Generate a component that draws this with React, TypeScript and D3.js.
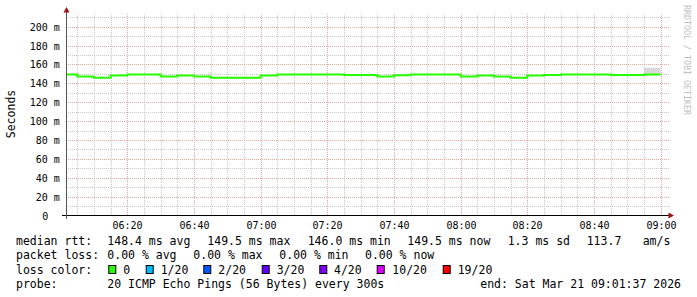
import React from "react";
import * as d3 from "d3";

// ---- data ----
const windowStart = new Date(2026, 2, 21, 6, 1, 37);
const windowEnd = new Date(2026, 2, 21, 9, 1, 37);
const firstBucket = new Date(2026, 2, 21, 6, 0, 0);
const stepMinutes = 5;
// median rtt per 5-minute bucket (ms), 06:00 .. 08:55
const medianRtt = [
  149.5, 147.2, 146.0, 148.4, 149.5, 149.5, 147.2, 148.4, 147.2, 146.0, 146.0, 146.0,
  148.4, 149.5, 149.5, 149.5, 149.5, 148.9, 148.9, 147.2, 148.6, 149.5, 149.5, 149.3,
  147.2, 148.4, 147.2, 146.0, 148.4, 148.9, 149.5, 149.5, 149.5, 148.8, 148.8, 149.5,
];
// visible smoke (ping spread) beyond the median line
const smoke = [{ bucket: 35, lo: 149.5, hi: 156.5 }];
const yTicksMajor = [0, 20, 40, 60, 80, 100, 120, 140, 160, 180, 200];
const xTickLabels = ["06:20", "06:40", "07:00", "07:20", "07:40", "08:00", "08:20", "08:40", "09:00"];
const lossLegend = [
  { label: "0", color: "#26ff00" },
  { label: "1/20", color: "#00b8ff" },
  { label: "2/20", color: "#0059ff" },
  { label: "3/20", color: "#5e00ff" },
  { label: "4/20", color: "#7e00ff" },
  { label: "10/20", color: "#dd00ff" },
  { label: "19/20", color: "#ff0000" },
];
const rttStats = ["148.4 ms avg", "149.5 ms max", "146.0 ms min", "149.5 ms now", "1.3 ms sd", "113.7", "am/s"];
const lossStats = ["0.00 % avg", "0.00 % max", "0.00 % min", "0.00 % now"];
const probeText = "20 ICMP Echo Pings (56 Bytes) every 300s";
const endText = "end: Sat Mar 21 09:01:37 2026";

const W = 697;
const H = 297;
const MONO = "'DejaVu Sans Mono', monospace";

export default function App() {
  const left = 66;
  const right = 666;
  const top = 14;
  const bottom = 215.5;
  const x = d3.scaleTime().domain([windowStart, windowEnd]).range([left, right]);
  const y = d3.scaleLinear().domain([0, 213.5]).range([bottom, top]);

  const bucketTimes = medianRtt.map((_, i) => d3.timeMinute.offset(firstBucket, i * stepMinutes));
  const lastEnd = d3.timeMinute.offset(firstBucket, medianRtt.length * stepMinutes);
  const pts: [Date, number][] = medianRtt.map((v, i) => [bucketTimes[i], v]);
  pts.push([lastEnd, medianRtt[medianRtt.length - 1]]);
  const line = d3
    .line<[Date, number]>()
    .x((d) => x(d[0]))
    .y((d) => y(d[1]))
    .curve(d3.curveStepAfter);

  const minorX = d3.timeMinute.every(5)!.range(windowStart, windowEnd);
  const majorX = d3.timeMinute.every(20)!.range(windowStart, windowEnd);
  const minorY = d3.range(10, 213, 20);
  const snap = (v: number) => Math.round(v) + 0.5;

  const gridRight = 669;

  const rttX = [107.3, 207.3, 307.7, 407.3, 507.7, 586.7, 642.7];
  const lossX = [107.3, 193.3, 279.3, 365];
  const boxX = [108.3, 145.7, 203.3, 261.7, 319.3, 376.7, 442.7];
  const boxLabelX = [123.3, 160.7, 218.3, 276.7, 334, 392.3, 457.7];
  const lineY = [245, 259.3, 273.7, 287.7];

  return (
    <svg
      width={W}
      height={H}
      style={{ position: "absolute", left: 0, top: 0, background: "#fff" }}
      xmlns="http://www.w3.org/2000/svg"
    >
      <rect x={0} y={0} width={W} height={H} fill="#fff" />
      <defs>
        <clipPath id="plot">
          <rect x={left} y={top} width={right - left} height={bottom - top} />
        </clipPath>
      </defs>
      {/* minor grid */}
      {minorX.map((t, i) => (
        <line key={"mx" + i} x1={snap(x(t))} x2={snap(x(t))} y1={top} y2={bottom}
          stroke="#c8c8c8" strokeWidth={1} strokeDasharray="1,1" />
      ))}
      {minorY.map((v, i) => (
        <line key={"my" + i} x1={left} x2={gridRight} y1={snap(y(v))} y2={snap(y(v))}
          stroke="#c8c8c8" strokeWidth={1} strokeDasharray="1,1" />
      ))}
      {/* major grid */}
      {majorX.map((t, i) => (
        <line key={"Mx" + i} x1={snap(x(t))} x2={snap(x(t))} y1={top} y2={bottom}
          stroke="#e4a8a8" strokeWidth={1} strokeDasharray="1,1" />
      ))}
      {yTicksMajor.filter((v) => v > 0).map((v, i) => (
        <line key={"My" + i} x1={left} x2={gridRight} y1={snap(y(v))} y2={snap(y(v))}
          stroke="#e4a8a8" strokeWidth={1} strokeDasharray="1,1" />
      ))}
      {/* smoke */}
      <g clipPath="url(#plot)">
        {smoke.map((s, i) => (
          <rect key={"s" + i} x={x(bucketTimes[s.bucket])} width={x(lastEnd) - x(bucketTimes[s.bucket])}
            y={y(s.hi)} height={y(s.lo) - y(s.hi)} fill="#d8d8d8" />
        ))}
        <path d={line(pts) || ""} fill="none" stroke="#26ff00" strokeWidth={2} />
      </g>
      {/* axes */}
      <line x1={62} x2={669} y1={bottom} y2={bottom} stroke="#000" strokeWidth={1} />
      <line x1={66.5} x2={66.5} y1={12} y2={219} stroke="#555" strokeWidth={1} />
      <path d="M63.5,12.5 L66.5,7 L69.5,12.5 Z" fill="#a01010" />
      <path d="M668.5,212.5 L674,215.5 L668.5,218.5 Z" fill="#a01010" />
      {/* y tick labels */}
      {yTicksMajor.map((v, i) => (
        <text key={"yl" + i} x={v === 0 ? 48.3 : 59.8} y={snap(y(v)) + 3.5} textAnchor="end"
          fontFamily={MONO} fontSize={10} fill="#000">
          {v === 0 ? "0" : `${v} m`}
        </text>
      ))}
      {/* x tick labels */}
      {majorX.map((t, i) => (
        <text key={"xl" + i} x={snap(x(t))} y={228.5} textAnchor="middle"
          fontFamily={MONO} fontSize={10} fill="#000">
          {xTickLabels[i]}
        </text>
      ))}
      {/* axis title */}
      <text transform="translate(14.5,114) rotate(-90)" textAnchor="middle" fontFamily={MONO}
        fontSize={11.5} fill="#000">Seconds</text>
      <text transform="translate(684,5) rotate(90)" textAnchor="start" fontFamily={MONO}
        fontSize={8.3} fill="#c0c0c0">RRDTOOL / TOBI OETIKER</text>
      {/* legend */}
      <g fontFamily={MONO} fontSize={11.5} fill="#000" style={{ whiteSpace: "pre" }}>
        <text x={16} y={lineY[0]}>median rtt:</text>
        {rttStats.map((s, i) => (
          <text key={"r" + i} x={rttX[i]} y={lineY[0]}>{s}</text>
        ))}
        <text x={16} y={lineY[1]}>packet loss:</text>
        {lossStats.map((s, i) => (
          <text key={"l" + i} x={lossX[i]} y={lineY[1]}>{s}</text>
        ))}
        <text x={16} y={lineY[2]}>loss color:</text>
        {lossLegend.map((d, i) => (
          <g key={"b" + i}>
            <rect x={boxX[i] + 0.5} y={265.5} width={7} height={8} fill={d.color} stroke="#000" strokeWidth={1} />
            <text x={boxLabelX[i]} y={lineY[2]}>{d.label}</text>
          </g>
        ))}
        <text x={16} y={lineY[3]}>probe:</text>
        <text x={107.3} y={lineY[3]}>{probeText}</text>
        <text x={681} y={lineY[3]} textAnchor="end">{endText}</text>
      </g>
    </svg>
  );
}
